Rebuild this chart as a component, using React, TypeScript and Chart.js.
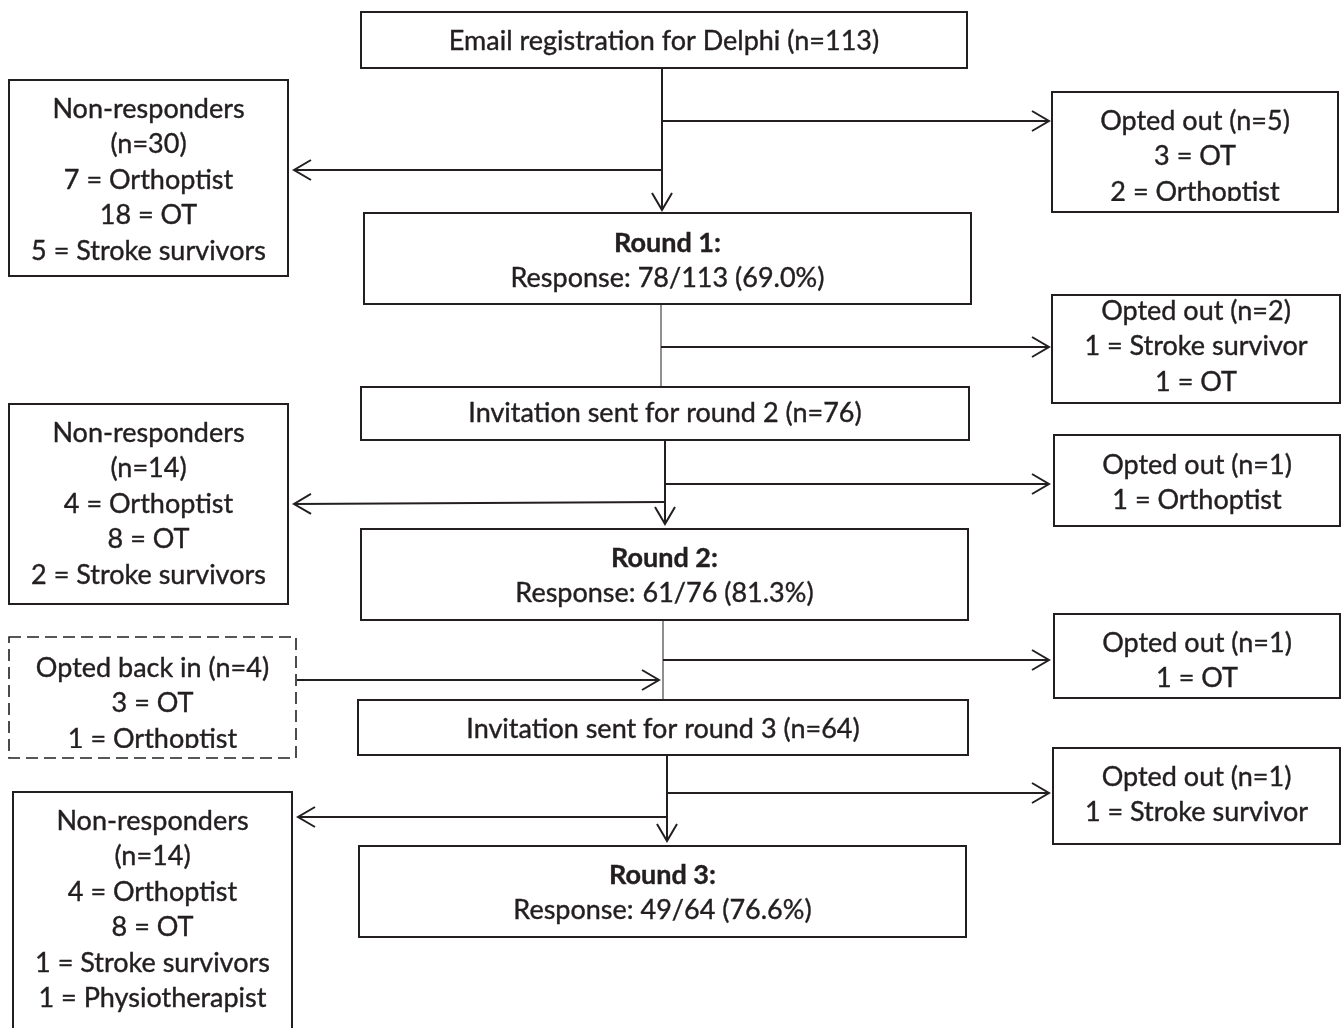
import React, { useEffect, useRef } from "react";
import { Chart, registerables } from "chart.js";

Chart.register(...registerables);

// ---- Text content of each box ----
const emailLines = ["Email registration for Delphi (n=113)"];
const nonResponders1 = ["Non-responders", "(n=30)", "7 = Orthoptist", "18 = OT", "5 = Stroke survivors"];
const optedOut1 = ["Opted out (n=5)", "3 = OT", "2 = Orthoptist"];
const round1 = ["Round 1:", "Response: 78/113 (69.0%)"];
const optedOut2 = ["Opted out (n=2)", "1 = Stroke survivor", "1 = OT"];
const invitation2 = ["Invitation sent for round 2 (n=76)"];
const nonResponders2 = ["Non-responders", "(n=14)", "4 = Orthoptist", "8 = OT", "2 = Stroke survivors"];
const optedOut3 = ["Opted out (n=1)", "1 = Orthoptist"];
const round2 = ["Round 2:", "Response: 61/76 (81.3%)"];
const optedBackIn = ["Opted back in (n=4)", "3 = OT", "1 = Orthoptist"];
const optedOut4 = ["Opted out (n=1)", "1 = OT"];
const invitation3 = ["Invitation sent for round 3 (n=64)"];
const optedOut5 = ["Opted out (n=1)", "1 = Stroke survivor"];
const nonResponders3 = ["Non-responders", "(n=14)", "4 = Orthoptist", "8 = OT", "1 = Stroke survivors", "1 = Physiotherapist"];
const round3 = ["Round 3:", "Response: 49/64 (76.6%)"];

// ---- Layout (positions in a 1344 x 1028 value space) ----
type BoxLayout = {
  lines: string[];
  x1: number; y1: number; x2: number; y2: number;
  firstY: number;
  clipY?: number;
  boldFirst?: boolean;
  dashed?: boolean;
  openBottom?: boolean;
};

const LINE_STEP = 35.5;

const boxes: BoxLayout[] = [
  { lines: emailLines, x1: 361, y1: 12, x2: 967, y2: 68, firstY: 41 },
  { lines: nonResponders1, x1: 9, y1: 80, x2: 288, y2: 276, firstY: 109 },
  { lines: optedOut1, x1: 1052, y1: 92, x2: 1338, y2: 212, firstY: 121, clipY: 201 },
  { lines: round1, x1: 364, y1: 213, x2: 971, y2: 304, firstY: 243, boldFirst: true },
  { lines: optedOut2, x1: 1052, y1: 295, x2: 1340, y2: 403, firstY: 311 },
  { lines: invitation2, x1: 361, y1: 387, x2: 969, y2: 440, firstY: 413 },
  { lines: nonResponders2, x1: 9, y1: 404, x2: 288, y2: 604, firstY: 433 },
  { lines: optedOut3, x1: 1054, y1: 435, x2: 1340, y2: 526, firstY: 465 },
  { lines: round2, x1: 361, y1: 529, x2: 968, y2: 620, firstY: 558, boldFirst: true },
  { lines: optedBackIn, x1: 9, y1: 637, x2: 296, y2: 758, firstY: 668, clipY: 748, dashed: true },
  { lines: optedOut4, x1: 1054, y1: 614, x2: 1340, y2: 698, firstY: 643 },
  { lines: invitation3, x1: 358, y1: 700, x2: 968, y2: 755, firstY: 729 },
  { lines: optedOut5, x1: 1053, y1: 748, x2: 1340, y2: 844, firstY: 777 },
  { lines: nonResponders3, x1: 13, y1: 792, x2: 292, y2: 1040, firstY: 821, openBottom: true },
  { lines: round3, x1: 359, y1: 846, x2: 966, y2: 937, firstY: 875, boldFirst: true },
];

type Connector = { x1: number; y1: number; x2: number; y2: number; head: boolean; w: number };

const connectors: Connector[] = [
  { x1: 662, y1: 68, x2: 662, y2: 210, head: true, w: 2 },
  { x1: 662, y1: 121, x2: 1049, y2: 121, head: true, w: 2 },
  { x1: 662, y1: 170, x2: 294, y2: 170, head: true, w: 2 },
  { x1: 661, y1: 304, x2: 661, y2: 387, head: false, w: 1 },
  { x1: 661, y1: 347, x2: 1049, y2: 347, head: true, w: 2 },
  { x1: 665, y1: 440, x2: 665, y2: 524, head: true, w: 2 },
  { x1: 665, y1: 484, x2: 1049, y2: 484, head: true, w: 2 },
  { x1: 665, y1: 502, x2: 294, y2: 504, head: true, w: 2 },
  { x1: 663, y1: 620, x2: 663, y2: 700, head: false, w: 1 },
  { x1: 663, y1: 660, x2: 1049, y2: 660, head: true, w: 2 },
  { x1: 297, y1: 680, x2: 659, y2: 680, head: true, w: 2 },
  { x1: 667, y1: 755, x2: 667, y2: 841, head: true, w: 2 },
  { x1: 667, y1: 793, x2: 1049, y2: 793, head: true, w: 2 },
  { x1: 667, y1: 817, x2: 298, y2: 817, head: true, w: 2 },
];

const INK = "#231f20";
const FONT_FAMILY = "Lato, 'Noto Sans', sans-serif";
const FONT_SIZE = 27;

const flowPlugin = {
  id: "flowchart",
  beforeDraw(chart: any) {
    const ctx = chart.ctx;
    ctx.save();
    ctx.fillStyle = "#ffffff";
    ctx.fillRect(0, 0, chart.width, chart.height);
    ctx.restore();
  },
  afterDraw(chart: any) {
    const ctx: CanvasRenderingContext2D = chart.ctx;
    const xs = chart.scales.x;
    const ys = chart.scales.y;
    const px = (v: number) => xs.getPixelForValue(v);
    const py = (v: number) => ys.getPixelForValue(v);

    // connectors
    connectors.forEach((c) => {
      const ax = px(c.x1), ay = py(c.y1), bx = px(c.x2), by = py(c.y2);
      ctx.save();
      ctx.strokeStyle = INK;
      ctx.lineWidth = c.w;
      ctx.beginPath();
      ctx.moveTo(ax, ay);
      ctx.lineTo(bx, by);
      ctx.stroke();
      if (c.head) {
        const ang = Math.atan2(by - ay, bx - ax);
        const len = 17;
        const half = 10;
        const bxk = bx - Math.cos(ang) * len;
        const byk = by - Math.sin(ang) * len;
        const nx = -Math.sin(ang) * half;
        const ny = Math.cos(ang) * half;
        ctx.lineWidth = 2;
        ctx.beginPath();
        ctx.moveTo(bxk + nx, byk + ny);
        ctx.lineTo(bx, by);
        ctx.lineTo(bxk - nx, byk - ny);
        ctx.stroke();
      }
      ctx.restore();
    });

    // boxes
    boxes.forEach((b) => {
      const l = px(b.x1), t = py(b.y1), r = px(b.x2), bt = py(b.y2);
      const cb = b.clipY !== undefined ? py(b.clipY) : bt;
      ctx.save();
      ctx.fillStyle = "#ffffff";
      ctx.fillRect(l, t, r - l, bt - t);
      // text clipped to the text area
      ctx.save();
      ctx.beginPath();
      ctx.rect(l, t, r - l, cb - t);
      ctx.clip();
      ctx.fillStyle = INK;
      ctx.strokeStyle = INK;
      ctx.lineWidth = 0.4;
      ctx.textAlign = "center";
      ctx.textBaseline = "middle";
      const cx = (l + r) / 2;
      b.lines.forEach((line, i) => {
        const bold = b.boldFirst && i === 0;
        ctx.font = `${bold ? "bold " : ""}${FONT_SIZE}px ${FONT_FAMILY}`;
        const y = py(b.firstY + i * LINE_STEP);
        ctx.fillText(line, cx, y);
        ctx.strokeText(line, cx, y);
      });
      ctx.restore();
      ctx.strokeStyle = INK;
      ctx.lineWidth = b.dashed ? 1.6 : 2;
      if (b.dashed) ctx.setLineDash([12, 6]);
      ctx.beginPath();
      if (b.openBottom) {
        ctx.moveTo(l, bt);
        ctx.lineTo(l, t);
        ctx.lineTo(r, t);
        ctx.lineTo(r, bt);
      } else {
        ctx.rect(l, t, r - l, bt - t);
      }
      ctx.stroke();
      ctx.restore();
    });
  },
};

export default function App() {
  const ref = useRef<HTMLCanvasElement | null>(null);
  useEffect(() => {
    document.body.style.margin = "0";
    const canvas = ref.current;
    if (!canvas) return;
    const chart = new Chart(canvas, {
      type: "scatter",
      data: { datasets: [{ data: [], pointRadius: 0 }] },
      options: {
        animation: false,
        responsive: false,
        layout: { padding: 0 },
        plugins: { legend: { display: false }, tooltip: { enabled: false } },
        scales: {
          x: { type: "linear", min: 0, max: 1344, display: false },
          y: { type: "linear", min: 0, max: 1028, reverse: true, display: false },
        },
      },
      plugins: [flowPlugin],
    });
    return () => chart.destroy();
  }, []);
  return (
    <div style={{ width: 1344, height: 1028 }}>
      <canvas ref={ref} width={1344} height={1028} style={{ display: "block" }} />
    </div>
  );
}
